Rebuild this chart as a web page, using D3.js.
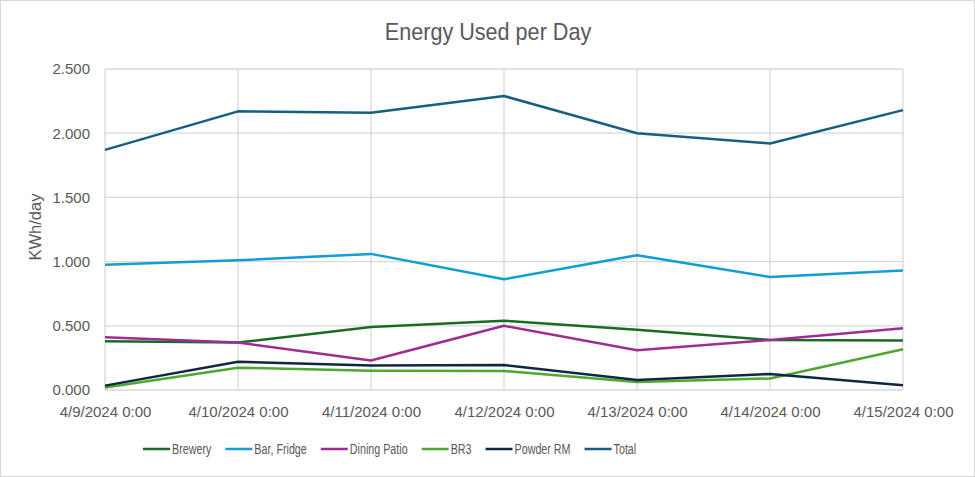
<!DOCTYPE html>
<html>
<head>
<meta charset="utf-8">
<script src="https://cdn.jsdelivr.net/npm/d3@7"></script>
<style>
  body { margin: 0; background: #fff; }
  svg { display: block; }
</style>
</head>
<body>
<svg id="chart" width="975" height="477"></svg>
<script>
// data
const dates = ["4/9/2024 0:00", "4/10/2024 0:00", "4/11/2024 0:00", "4/12/2024 0:00", "4/13/2024 0:00", "4/14/2024 0:00", "4/15/2024 0:00"]
const seriesNames = ["Brewery", "Bar, Fridge", "Dining Patio", "BR3", "Powder RM", "Total"]
const brewery    = [0.38, 0.37, 0.49, 0.54, 0.47, 0.39, 0.385]
const barFridge  = [0.975, 1.01, 1.06, 0.862, 1.05, 0.88, 0.93]
const diningPatio= [0.41, 0.37, 0.23, 0.50, 0.31, 0.39, 0.48]
const br3        = [0.02, 0.174, 0.15, 0.148, 0.062, 0.09, 0.317]
const powderRm   = [0.034, 0.22, 0.19, 0.195, 0.078, 0.125, 0.037]
const total      = [1.87, 2.17, 2.16, 2.29, 2.00, 1.92, 2.18]
const yTicks = [0, 0.5, 1, 1.5, 2, 2.5]

const colors = ["#196B24", "#0F9ED5", "#A02B93", "#4EA72E", "#0E2841", "#156082"]
const values = [brewery, barFridge, diningPatio, br3, powderRm, total]

const series = seriesNames.map((name, i) => ({name: name, color: colors[i], values: values[i]}))

const svg = d3.select("#chart")

// outer border
svg.append("rect")
   .attr("x", 0.5).attr("y", 0.5)
   .attr("width", 974).attr("height", 476)
   .attr("fill", "#fff")
   .attr("stroke", "#d9d9d9")

const font = "'Liberation Sans', Arial, sans-serif"

// scales
const x = d3.scalePoint()
            .domain(dates)
            .range([105, 903])

const y = d3.scaleLinear()
            .domain([0, 2.5])
            .range([390, 69])

// grid
svg.append("g")
   .selectAll("line.h")
   .data(yTicks)
   .enter()
   .append("line")
   .attr("x1", 105).attr("x2", 903)
   .attr("y1", d => y(d)).attr("y2", d => y(d))
   .attr("stroke", "#d9d9d9")
   .attr("stroke-width", 1.3)

svg.append("g")
   .selectAll("line.v")
   .data(dates)
   .enter()
   .append("line")
   .attr("x1", d => x(d)).attr("x2", d => x(d))
   .attr("y1", y(2.5)).attr("y2", y(0))
   .attr("stroke", "#d9d9d9")
   .attr("stroke-width", 1.3)

// y axis labels
const yAxis = d3.axisLeft(y)
                .tickValues(yTicks)
                .tickFormat(d3.format(".3f"))
                .tickSize(0)
                .tickPadding(15)

svg.append("g")
   .attr("transform", "translate(105,0)")
   .call(yAxis)
   .call(g => g.select(".domain").remove())
   .selectAll("text")
   .attr("fill", "#595959")
   .style("font-family", font)
   .style("font-size", "15px")

// x axis labels
const xAxis = d3.axisBottom(x)
                .tickSize(0)
                .tickPadding(16)

svg.append("g")
   .attr("transform", "translate(0,390)")
   .call(xAxis)
   .call(g => g.select(".domain").remove())
   .selectAll("text")
   .attr("fill", "#595959")
   .style("font-family", font)
   .style("font-size", "15px")

// y axis title
svg.append("text")
   .attr("transform", "translate(41,227) rotate(-90)")
   .attr("text-anchor", "middle")
   .attr("fill", "#595959")
   .style("font-family", font)
   .style("font-size", "16.5px")
   .text("KWh/day")

// title (narrow look)
svg.append("text")
   .attr("transform", "translate(488,40) scale(0.9,1)")
   .attr("text-anchor", "middle")
   .attr("fill", "#595959")
   .style("font-family", font)
   .style("font-size", "24px")
   .text("Energy Used per Day")

// lines
const line = d3.line()
               .x((d, i) => x(dates[i]))
               .y(d => y(d))

svg.append("g")
   .selectAll("path")
   .data(series)
   .enter()
   .append("path")
   .attr("d", d => line(d.values))
   .attr("fill", "none")
   .attr("stroke", d => d.color)
   .attr("stroke-width", 2.5)
   .attr("stroke-linejoin", "round")

// legend
const legend = svg.append("g")
                  .attr("class", "legend")

const squeeze = 0.74
let lx = 143
series.forEach(s => {
  const g = legend.append("g").attr("transform", `translate(${lx},449)`)
  g.append("line")
   .attr("x1", 0).attr("x2", 27)
   .attr("y1", 0).attr("y2", 0)
   .attr("stroke", s.color)
   .attr("stroke-width", 2.5)
  const t = g.append("text")
   .attr("transform", `translate(29,5) scale(${squeeze},1)`)
   .attr("fill", "#595959")
   .style("font-family", font)
   .style("font-size", "14.5px")
   .text(s.name)
  lx += 29 + t.node().getComputedTextLength() * squeeze + 14
})
</script>
</body>
</html>
